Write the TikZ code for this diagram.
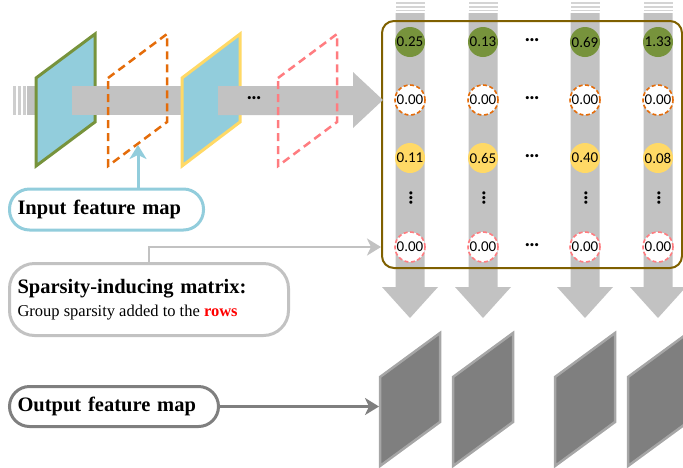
\documentclass[tikz,border=0pt]{standalone}
\usepackage{fontspec}
\setmainfont{Liberation Serif}
\newfontfamily\numfont{Carlito}
\usetikzlibrary{shapes,arrows,arrows.meta,positioning,calc,fit,backgrounds}

\definecolor{mapblue}{RGB}{146,205,220}
\definecolor{mapgreen}{RGB}{119,147,60}
\definecolor{maporange}{RGB}{228,108,10}
\definecolor{mapyellow}{RGB}{255,217,102}
\definecolor{mapsalmon}{RGB}{255,124,128}
\definecolor{flowgray}{RGB}{194,194,194}
\definecolor{matbrown}{RGB}{127,96,0}
\definecolor{outgray}{RGB}{127,127,127}
\definecolor{outedge}{RGB}{166,166,166}

\begin{document}
\begin{tikzpicture}[x=1pt, y=-1pt,
    note/.style={rectangle, draw, line width=3pt, rounded corners=20pt, align=left, inner xsep=8pt, font=\fontsize{20.5}{23}\selectfont\bfseries},
    value/.style={circle, minimum size=30pt, inner sep=0pt, font=\numfont\fontsize{15}{15}\selectfont},
    zero/.style={value, fill=white, draw, line width=1.6pt, dash pattern=on 4pt off 2.5pt},
    dots/.style={inner sep=0pt, font=\numfont\bfseries\fontsize{21}{21}\selectfont},
    plane/.style={line width=3pt, line join=miter},
    ghost/.style={line width=2.5pt, dash pattern=on 8pt off 5pt},
    outplane/.style={fill=outgray, draw=outedge, line width=2.5pt},
    arrow/.style={line width=3pt,->,>={Stealth[length=14pt,width=17pt,inset=4pt]}}
]
\useasboundingbox (0,0) rectangle (683,467);

% Column flows (one per filter row)
\foreach \x in {410,483,585,658} {
  \foreach \s in {2,6,9.6} \fill[flowgray!70] (\x-14.5,\s) rectangle ++(29,1.5);
  \fill[flowgray] (\x-14.5,13) -- (\x+14.5,13) -- (\x+14.5,287) -- (\x+28,287)
    -- (\x,318) -- (\x-28,287) -- (\x-14.5,287) -- cycle;
}

% Sparsity-inducing matrix
\node[draw=matbrown, line width=2pt, rounded corners=12pt, minimum width=300pt, minimum height=247pt] (matbox) at (532,144.5) {};

% Matrix entries
\foreach \x/\a/\b [count=\i] in {410/0.25/0.11, 483/0.13/0.65, 585/0.69/0.40, 658/1.33/0.08} {
  \node[value, fill=mapgreen] (r1c\i) at (\x,42) {\a};
  \node[zero, draw=maporange] (r2c\i) at (\x,100) {0.00};
  \node[value, fill=mapyellow] (r3c\i) at (\x,158) {\b};
  \node[dots, rotate=90] (r4c\i) at (\x+1,198) {…};
  \node[zero, draw=mapsalmon] (r5c\i) at (\x,247) {0.00};
}
\foreach \y [count=\j] in {42,100,158,247}
  \node[dots] (hdots\j) at (532,\y-2) {…};

% Input flow through the layers
\foreach \s in {13,18,23} \fill[flowgray!80] (\s,86) rectangle ++(2.5,29);
\fill[flowgray] (27,86) rectangle (40,115);
\draw[plane, fill=mapblue, draw=mapgreen] (36,78) -- ++(59,-44) -- ++(0,88) -- ++(-59,44) -- cycle;
\fill[flowgray] (72,86) rectangle (200,115);
\draw[plane, fill=mapblue, draw=mapyellow] (182,78) -- ++(58,-44) -- ++(0,88) -- ++(-58,44) -- cycle;
\fill[flowgray] (218,86) -- (353,86) -- (353,72) -- (383,100) -- (353,128) -- (353,115) -- (218,115) -- cycle;
\node[dots] (flowdots) at (254,98) {…};
\draw[ghost, draw=maporange] (108,78) -- ++(59,-44) -- ++(0,88) -- ++(-59,44) -- cycle;
\draw[ghost, draw=mapsalmon] (278,78) -- ++(59,-44) -- ++(0,88) -- ++(-59,44) -- cycle;

% Output feature maps
\foreach \x [count=\i] in {410,483,585,658}
  \draw[outplane] (\x-30,377) -- ++(60,-44) -- ++(0,89) -- ++(-60,44) -- cycle;

% Labels
\node[note, draw=mapblue, text width=178pt, minimum height=41pt] (inbox) at (106.5,209.5) {Input feature map};
\node[note, draw=flowgray, rounded corners=25pt, text width=263pt, minimum height=72pt] (spbox) at (149,299.5)
  {Sparsity-inducing matrix:\\\mbox{\fontsize{16.5}{20}\selectfont\mdseries\spaceskip=0.25em Group sparsity added to the \textcolor{red}{\bfseries rows}}};
\node[note, draw=outgray, text width=193pt, minimum height=40pt] (outbox) at (114,406.5) {Output feature map};

% Connectors
\coordinate (inHit) at (138,145);
\coordinate (spHit) at (381,247);
\coordinate (outHit) at (379,406.5);
\draw[arrow, mapblue] (inbox.north -| inHit) -- (inHit);
\draw[arrow, flowgray, line width=2.5pt] (spbox.north) |- (spHit);
\draw[arrow, outgray] (outbox.east) -- (outHit);

\end{tikzpicture}
\end{document}
